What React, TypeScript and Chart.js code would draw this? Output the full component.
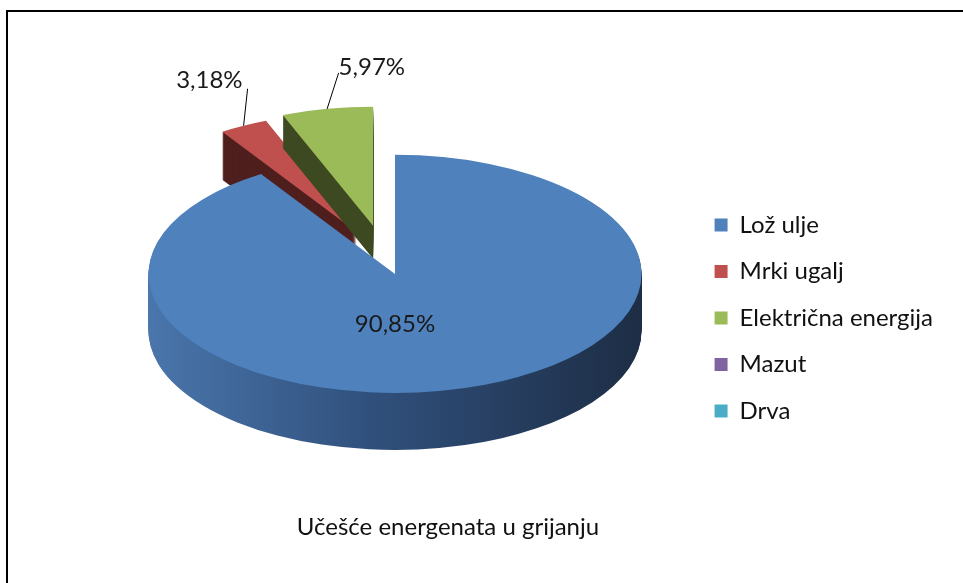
import React, { useEffect, useRef } from "react";
import { Chart, registerables } from "chart.js";

Chart.register(...registerables);

// ---------- data ----------
const categories = ["Lož ulje", "Mrki ugalj", "Električna energija", "Mazut", "Drva"];
const shares = [90.85, 3.18, 5.97, 0, 0];
const shareLabels = ["90,85%", "3,18%", "5,97%", "0,00%", "0,00%"];
const chartTitle = "Učešće energenata u grijanju";

// ---------- styles ----------
const topColors = ["#4F81BD", "#C0504D", "#9BBB59", "#8064A2", "#4BACC6"];
const sideColors = ["", "#4f1f1d", "#3d4a21", "#3f3151", "#215968"];
const blueSideStops: [number, string][] = [
  [0, "#4a76ac"],
  [0.45, "#30507c"],
  [1, "#1d2d45"],
];
const explode = [30, 66, 72, 0, 0];
const sliceDepth = [57, 48, 33, 40, 40];
const leaderVec: (number[] | null)[] = [null, [4, -37], [11.5, -36], null, null];
const FONT = "Lato";
const VIEW = { cx: 386.5, cy: 260, tilt: 0.483, radius: 246.5 };

function midAngle(el: any) {
  return (el.startAngle + el.endAngle) / 2;
}

function placeArc(ctx: CanvasRenderingContext2D, el: any, i: number, dy: number) {
  const mid = midAngle(el);
  const d = explode[i];
  ctx.translate(VIEW.cx, VIEW.cy + dy);
  ctx.scale(1, VIEW.tilt);
  ctx.translate(Math.cos(mid) * d - el.x, Math.sin(mid) * d - el.y);
}

function projectPoint(el: any, i: number, rho: number, angle: number) {
  const mid = midAngle(el);
  const d = explode[i];
  return {
    x: VIEW.cx + Math.cos(mid) * d + Math.cos(angle) * rho,
    y: VIEW.cy + VIEW.tilt * (Math.sin(mid) * d + Math.sin(angle) * rho),
  };
}

const pie3d = {
  id: "pie3d",
  beforeDatasetsDraw(chart: any) {
    const ctx: CanvasRenderingContext2D = chart.ctx;
    const arcs = chart.getDatasetMeta(0).data;
    const order = [1, 2, 3, 4, 0];
    for (const i of order) {
      const el = arcs[i];
      if (!el || shares[i] <= 0) continue;
      const saved = el.options;
      let side: any = sideColors[i];
      if (i === 0) {
        const R = el.outerRadius;
        const g = ctx.createLinearGradient(el.x - R, 0, el.x + R, 0);
        blueSideStops.forEach(([o, c]) => g.addColorStop(o, c));
        side = g;
      }
      el.options = Object.assign({}, saved, { backgroundColor: side, borderWidth: 0 });
      for (let dy = sliceDepth[i]; dy >= 1; dy--) {
        ctx.save();
        placeArc(ctx, el, i, dy);
        el.draw(ctx);
        ctx.restore();
      }
      el.options = saved;
      ctx.save();
      placeArc(ctx, el, i, 0);
      el.draw(ctx);
      ctx.restore();
    }
    return false;
  },
  afterDraw(chart: any) {
    const ctx: CanvasRenderingContext2D = chart.ctx;
    const arcs = chart.getDatasetMeta(0).data;
    ctx.save();
    ctx.font = `24px ${FONT}`;
    ctx.fillStyle = "#1a1a1a";
    ctx.textBaseline = "middle";
    arcs.forEach((el: any, i: number) => {
      if (shares[i] <= 0) return;
      const R = el.outerRadius;
      if (shares[i] > 50) {
        const p = projectPoint(el, i, R * 0.42, Math.PI / 2);
        ctx.textAlign = "center";
        ctx.fillText(shareLabels[i], p.x, p.y);
      } else {
        const p0 = projectPoint(el, i, R, midAngle(el));
        const v = leaderVec[i] as number[];
        const p1 = { x: p0.x + v[0], y: p0.y + v[1] };
        ctx.beginPath();
        ctx.moveTo(p0.x, p0.y);
        ctx.lineTo(p1.x, p1.y);
        ctx.strokeStyle = "#000";
        ctx.lineWidth = 1;
        ctx.stroke();
        const left = i === 1;
        ctx.textAlign = left ? "right" : "left";
        ctx.fillText(shareLabels[i], p1.x + (left ? -5 : 0), p1.y + (left ? -9 : -6));
      }
    });
    ctx.restore();
  },
};

export default function App() {
  const ref = useRef<HTMLCanvasElement | null>(null);
  useEffect(() => {
    if (!ref.current) return;
    const chart = new Chart(ref.current, {
      type: "pie",
      data: {
        labels: categories,
        datasets: [
          {
            data: shares,
            backgroundColor: topColors,
            borderWidth: 0,
            radius: VIEW.radius,
            cutout: "0%",
            clip: false,
          } as any,
        ],
      },
      options: {
        responsive: false,
        animation: false,
        events: [],
        layout: { padding: { left: -47, right: 20, top: 53, bottom: 0 } },
        plugins: {
          tooltip: { enabled: false },
          legend: {
            position: "right",
            labels: {
              boxWidth: 13,
              boxHeight: 13,
              padding: 22.5,
              color: "#111",
              font: { family: FONT, size: 24 },
            },
          },
          title: {
            display: true,
            text: chartTitle,
            position: "bottom",
            color: "#111",
            font: { family: FONT, size: 24, weight: "normal" },
            padding: { top: 10, bottom: 41.6 },
          },
        },
      } as any,
      plugins: [pie3d as any],
    });
    return () => chart.destroy();
  }, []);

  return (
    <div style={{ position: "fixed", left: 0, top: 0, width: 963, height: 583, overflow: "hidden", background: "#fff" }}>
      <div
        style={{
          position: "absolute",
          left: 6,
          top: 10,
          width: 2000,
          height: 2000,
          borderLeft: "2px solid #000",
          borderTop: "2px solid #000",
        }}
      />
      <canvas ref={ref} width={963} height={583} style={{ position: "absolute", left: 0, top: 0 }} />
    </div>
  );
}
